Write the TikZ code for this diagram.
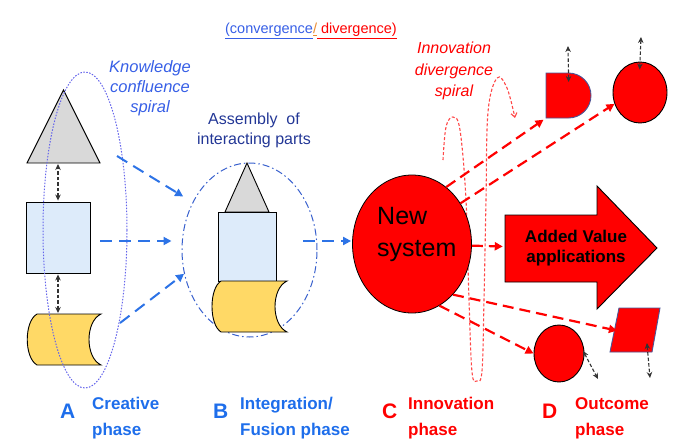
\documentclass[tikz,border=0pt]{standalone}
\usepackage{fontspec}
\setmainfont{Liberation Sans}
\usetikzlibrary{shapes.geometric,arrows.meta,calc}
\definecolor{graybg}{RGB}{217,217,217}
\definecolor{paleblue}{RGB}{221,235,250}
\definecolor{canyellow}{RGB}{255,217,102}
\definecolor{phaseblue}{RGB}{30,110,235}
\definecolor{arrowblue}{RGB}{45,115,230}
\definecolor{ringblue}{RGB}{55,95,205}
\definecolor{spiralblue}{RGB}{100,100,235}
\definecolor{noteblue}{RGB}{55,95,230}
\definecolor{navytext}{RGB}{35,55,150}
\definecolor{edgeblue}{RGB}{75,85,150}
\definecolor{slashorange}{RGB}{235,140,50}
\definecolor{spiralred}{RGB}{255,70,70}
\begin{document}
\begin{tikzpicture}[x=1pt,y=-1pt,
  slot/.style={inner sep=0, outer sep=0},
  shapeline/.style={draw=black, line width=0.9pt},
  bluearrow/.style={draw=arrowblue, line width=2pt, dash pattern=on 12pt off 7pt, -{Triangle[length=8pt,width=8pt]}},
  redarrow/.style={draw=red, line width=2.2pt, dash pattern=on 11pt off 6pt, -{Triangle[length=8pt,width=8pt]}},
  tinyarrow/.style={draw=black!80, line width=1.1pt, dash pattern=on 3.5pt off 2pt, {Stealth[length=6pt,width=5.5pt]}-{Stealth[length=6pt,width=5.5pt]}},
  phaseletter/.style={anchor=north west, inner sep=0, font=\fontsize{21}{24}\selectfont\bfseries},
  phasename/.style={anchor=north west, inner sep=0, align=left, font=\fontsize{17}{26}\selectfont\bfseries}]
\useasboundingbox (0,0) rectangle (675,439);
% A creative phase
\node[slot, minimum width=73, minimum height=73] (triA) at (63.5,126.5) {};
\draw[shapeline, fill=graybg] (triA.south west) -- (triA.north) -- (triA.south east) -- cycle;
\node[shapeline, fill=paleblue, inner sep=0, minimum width=64, minimum height=71] (rectA) at (58,237.5) {};
\node[slot, minimum width=74, minimum height=51] (cylA) at (64,339.5) {};
\draw[shapeline, fill=canyellow] ($(cylA.north west)+(10,0)$) -- (cylA.north east)
  .. controls ($(cylA.east)+(-16,-18)$) and ($(cylA.east)+(-16,18)$) .. (cylA.south east)
  -- ($(cylA.south west)+(10,0)$)
  .. controls ($(cylA.west)+(-3,18)$) and ($(cylA.west)+(-3,-18)$) .. cycle;
\draw[tinyarrow, shorten <=1, shorten >=1] (rectA.north) -- (rectA.north |- triA.south);
\draw[tinyarrow, shorten <=1, shorten >=1] (rectA.south) -- (rectA.south |- cylA.north);
\draw[spiralblue, line width=1pt, dash pattern=on 1.5pt off 1.5pt] (85,230) ellipse [x radius=42, y radius=158];
% B integration
\node[draw=ringblue, line width=1pt, dash pattern=on 7pt off 3pt on 1.5pt off 3pt, ellipse, inner sep=0, minimum width=135, minimum height=174] (Bell) at (249.5,250) {};
\node[slot, minimum width=44, minimum height=49] (triB) at (247,187.5) {};
\draw[shapeline, fill=graybg] (triB.south west) -- (triB.north) -- (triB.south east) -- cycle;
\node[shapeline, fill=paleblue, inner sep=0, minimum width=58, minimum height=69] (rectB) at (247,246.5) {};
\node[slot, minimum width=75, minimum height=51] (cylB) at (249.5,306.5) {};
\draw[shapeline, fill=canyellow] ($(cylB.north west)+(9,0)$) -- (cylB.north east)
  .. controls ($(cylB.east)+(-16,-18)$) and ($(cylB.east)+(-16,18)$) .. (cylB.south east)
  -- ($(cylB.south west)+(9,0)$)
  .. controls ($(cylB.west)+(-3,18)$) and ($(cylB.west)+(-3,-18)$) .. cycle;
\coordinate (tA1) at (117,156);
\coordinate (tA2) at (100,241);
\coordinate (tA3) at (120,323);
\coordinate (tB) at (303,241);
\draw[bluearrow, shorten >=11] (tA1) -- (Bell.140);
\draw[bluearrow, shorten >=10] (tA2) -- (tA2 -| Bell.west);
\draw[bluearrow] (tA3) -- (Bell.200);
% C innovation
\draw[spiralred, line width=1.1pt, dash pattern=on 3pt off 2pt, -{Straight Barb[length=4pt,width=6pt]}] plot[smooth, tension=0.6] coordinates {(443,160) (446,127) (453,117) (460,130) (466,200) (469,300) (472,372) (477,381) (482,371) (484,300) (486,200) (488,112) (497,78) (507,88) (515,118)};
\node[draw=black, line width=0.8pt, fill=red, ellipse, inner sep=0, minimum width=119, minimum height=138] (C) at (412,244) {};
\draw[bluearrow, shorten >=1] (tB) -- (tB -| C.west);
% D outcome
\node[slot, minimum width=45, minimum height=45] (dsh) at (568.5,95.5) {};
\draw[draw=edgeblue, line width=0.9pt, fill=red] (dsh.north west) -- (dsh.north) arc[start angle=-90, end angle=90, radius=22.5] -- (dsh.south west) -- cycle;
\node[draw=black, line width=0.9pt, fill=red, ellipse, inner sep=0, minimum width=54, minimum height=61] (circTR) at (640,92.5) {};
\node[slot, minimum width=42, minimum height=44] (para) at (635,330) {};
\draw[draw=edgeblue, line width=0.9pt, fill=red] ($(para.north west)+(5,0)$) -- ($(para.north east)+(4,0)$) -- ($(para.south east)+(-4,0)$) -- ($(para.south west)+(-4,0)$) -- cycle;
\node[draw=black, line width=0.9pt, fill=red, ellipse, inner sep=0, minimum width=50, minimum height=57] (circBR) at (559,353.5) {};
\draw[shapeline, fill=red] (505,215) -- (597,215) -- (597,186) -- (657,248) -- (597,309) -- (597,282) -- (505,282) -- cycle;
\node[inner sep=0, minimum width=142, minimum height=67, align=center, font=\fontsize{17}{20}\selectfont\bfseries] (val) at (576,248.5) {Added Value\\applications};
\draw[redarrow, shorten >=2] (C) -- (val);
\draw[redarrow, shorten >=3] (C.59) -- (dsh.south west);
\draw[redarrow] (C.40) -- (circTR.204);
\draw[redarrow, shorten >=-3] (C.-51) -- (para.west);
\draw[redarrow] (C.-66) -- (circBR.west);
\coordinate (dshTip) at (568,46);
\coordinate (circTip) at (641,37);
\coordinate (rollTip) at (598,379);
\coordinate (paraTip) at (650,378);
\draw[tinyarrow, shorten <=-9] (dsh.north) -- (dshTip);
\draw[tinyarrow, shorten <=-8] (circTR.north) -- (circTip);
\draw[tinyarrow, shorten <=-3] (circBR.east) -- (rollTip);
\draw[tinyarrow, shorten <=-9] (para.-60) -- (paraTip);
% texts
\node[anchor=base, inner sep=0, font=\fontsize{14.5}{16}\selectfont] (cvdv) at (311,34) {\textcolor{noteblue}{\underline{(convergence}}\textcolor{slashorange}{\underline{/}}\textcolor{red}{\underline{ divergence)}}};
\node[anchor=north, inner sep=0, align=center, text=noteblue, font=\fontsize{16.5}{20}\selectfont\itshape] (knw) at (150,60) {Knowledge\\confluence\\spiral};
\node[anchor=north, inner sep=0, align=center, text=navytext, font=\fontsize{16}{20}\selectfont] (asm) at (254,113) {Assembly \ of\\interacting parts};
\node[anchor=north, inner sep=0, align=center, text=red, font=\fontsize{16}{21.5}\selectfont\itshape] (inv) at (454,42) {Innovation\\divergence\\spiral};
\node[anchor=north west, inner sep=0, align=left, font=\fontsize{25}{32}\selectfont] (Ctext) at (377,207) {New\\system};
\node[phaseletter, text=phaseblue] (labA) at (60,404) {A};
\node[phasename, text=phaseblue] (phA) at (92,397) {Creative\\phase};
\node[phaseletter, text=phaseblue] (labB) at (213,404) {B};
\node[phasename, text=phaseblue] (phB) at (240,397) {Integration/\\Fusion phase};
\node[phaseletter, text=red] (labC) at (382,404) {C};
\node[phasename, text=red] (phC) at (408,397) {Innovation\\phase};
\node[phaseletter, text=red] (labD) at (542,404) {D};
\node[phasename, text=red] (phD) at (575,397) {Outcome\\phase};
\end{tikzpicture}
\end{document}
